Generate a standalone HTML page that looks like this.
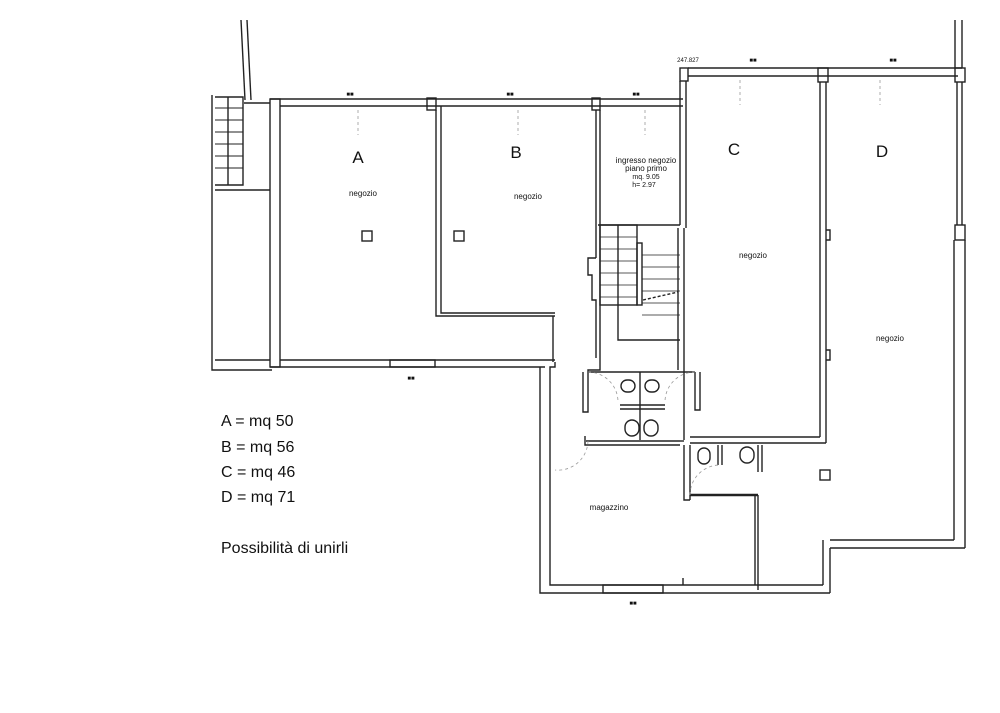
<!DOCTYPE html>
<html><head><meta charset="utf-8"><style>
html,body{margin:0;padding:0;background:#fff;}
svg{display:block}
text{font-family:"Liberation Sans",Arial,sans-serif;fill:#111}
</style></head><body>
<svg width="1000" height="713" viewBox="0 0 1000 713" xmlns="http://www.w3.org/2000/svg">
<g fill="none" stroke="#222" stroke-width="1.4">
<!-- left stair strip -->
<line x1="241" y1="20" x2="245" y2="100"/><line x1="247" y1="20" x2="251" y2="100"/>
<polyline points="212,95 212,370 272,370"/>
<polyline points="215,97 243,97 243,185 215,185"/>
<line x1="228" y1="97" x2="228" y2="185"/>
<g stroke-width="1">
<line x1="215" y1="108" x2="243" y2="108"/><line x1="215" y1="120" x2="243" y2="120"/><line x1="215" y1="132" x2="243" y2="132"/><line x1="215" y1="144" x2="243" y2="144"/><line x1="215" y1="156" x2="243" y2="156"/><line x1="215" y1="168" x2="243" y2="168"/>
</g>
<line x1="244" y1="103" x2="270" y2="103"/>
<line x1="215" y1="190" x2="270" y2="190"/>
<line x1="215" y1="360" x2="270" y2="360"/>
<!-- top wall A/B/ingresso -->
<line x1="270" y1="99" x2="683" y2="99"/><line x1="280" y1="106" x2="683" y2="106"/>
<rect x="270" y="99" width="10" height="268"/>
<line x1="280" y1="360" x2="555" y2="360"/>
<line x1="270" y1="367" x2="545" y2="367"/>
<rect x="427" y="98" width="9" height="12"/>
<rect x="592" y="98" width="8" height="12"/>
<!-- B -->
<polyline points="436,110 436,316 555,316"/>
<polyline points="441,106 441,313 555,313"/>
<line x1="553" y1="316" x2="553" y2="362"/>
<!-- ingresso -->
<line x1="596" y1="110" x2="596" y2="258"/><line x1="600" y1="110" x2="600" y2="358"/>
<polyline points="596,258 588,258 588,275 592,275 592,300 596,300 596,358"/>
<line x1="598" y1="225" x2="680" y2="225"/>
<rect x="600" y="225" width="37" height="80"/>
<rect x="637" y="243" width="5" height="62"/>
<polyline points="618,225 618,340 680,340"/>
<g stroke-width="0.8">
<line x1="600" y1="237" x2="637" y2="237"/><line x1="600" y1="249" x2="637" y2="249"/><line x1="600" y1="261" x2="637" y2="261"/><line x1="600" y1="273" x2="637" y2="273"/><line x1="600" y1="285" x2="637" y2="285"/><line x1="600" y1="297" x2="637" y2="297"/>
<line x1="642" y1="255" x2="680" y2="255"/><line x1="642" y1="267" x2="680" y2="267"/><line x1="642" y1="279" x2="680" y2="279"/><line x1="642" y1="291" x2="680" y2="291"/><line x1="642" y1="303" x2="680" y2="303"/><line x1="642" y1="315" x2="680" y2="315"/>
</g>
<line x1="643" y1="300" x2="678" y2="292" stroke-dasharray="3,2"/>
<!-- C -->
<rect x="680" y="68" width="8" height="13"/>
<line x1="680" y1="81" x2="680" y2="225"/><line x1="686" y1="81" x2="686" y2="228"/>
<line x1="678" y1="228" x2="678" y2="370"/><line x1="684" y1="228" x2="684" y2="440"/>
<line x1="688" y1="68" x2="962" y2="68"/><line x1="688" y1="76" x2="958" y2="76"/>
<rect x="818" y="68" width="10" height="14"/>
<line x1="820" y1="82" x2="820" y2="437"/><line x1="826" y1="82" x2="826" y2="443"/>
<polyline points="826,230 830,230 830,240 826,240"/><polyline points="826,350 830,350 830,360 826,360"/>
<line x1="690" y1="437" x2="820" y2="437"/>
<line x1="690" y1="443" x2="826" y2="443"/>
<!-- D right -->
<line x1="955" y1="20" x2="955" y2="68"/><line x1="962" y1="20" x2="962" y2="68"/>
<rect x="955" y="68" width="10" height="14"/>
<line x1="957" y1="82" x2="957" y2="225"/><line x1="962" y1="82" x2="962" y2="225"/>
<rect x="955" y="225" width="10" height="15"/>
<line x1="954" y1="240" x2="954" y2="540"/><line x1="965" y1="240" x2="965" y2="548"/>
<line x1="830" y1="540" x2="954" y2="540"/><line x1="830" y1="548" x2="965" y2="548"/>
<line x1="823" y1="540" x2="823" y2="585"/><line x1="830" y1="548" x2="830" y2="593"/>
<!-- lower block -->
<polyline points="555,362 555,367 550,367 550,585 823,585"/>
<polyline points="540,367 540,593 830,593"/>
<rect x="603" y="585" width="60" height="8"/>
<line x1="683" y1="578" x2="683" y2="585"/>
<line x1="755" y1="495" x2="755" y2="585"/><line x1="758" y1="495" x2="758" y2="590"/>
<!-- WCs -->
<polyline points="583,372 583,412 588,412 588,370 600,370 600,358"/>
<line x1="588" y1="372" x2="695" y2="372"/>
<line x1="640" y1="372" x2="640" y2="440"/>
<line x1="620" y1="405" x2="665" y2="405"/><line x1="620" y1="409" x2="665" y2="409"/>
<polyline points="695,372 695,410 700,410 700,372"/>
<polyline points="585,436 585,445 680,445"/>
<line x1="586" y1="441" x2="680" y2="441"/>
<line x1="680" y1="441" x2="684" y2="441"/>
<polyline points="684,445 684,500 690,500"/>
<line x1="690" y1="445" x2="690" y2="500"/>
<line x1="718" y1="445" x2="718" y2="465"/><line x1="722" y1="445" x2="722" y2="465"/>
<line x1="758" y1="445" x2="758" y2="472"/><line x1="762" y1="445" x2="762" y2="472"/>
<line x1="690" y1="495" x2="758" y2="495" stroke-width="2.5"/>
<rect x="820" y="470" width="10" height="10"/>
<!-- fixtures -->
<rect x="621" y="380" width="14" height="12" rx="6"/><rect x="645" y="380" width="14" height="12" rx="6"/>
<rect x="625" y="420" width="14" height="16" rx="7"/><rect x="644" y="420" width="14" height="16" rx="7"/>
<rect x="698" y="448" width="12" height="16" rx="6"/><rect x="740" y="447" width="14" height="16" rx="7"/>
<!-- columns -->
<rect x="362" y="231" width="10" height="10"/><rect x="454" y="231" width="10" height="10"/>
<!-- windows bottom A -->
<rect x="390" y="360" width="45" height="7"/>
</g>
<g fill="none" stroke="#999" stroke-width="0.8" stroke-dasharray="3,3">
<path d="M588,372 A30,30 0 0 1 618,402"/><path d="M695,372 A30,30 0 0 0 665,402"/>
<path d="M588,441 A30,30 0 0 1 555,470"/><path d="M690,495 A30,30 0 0 1 720,465"/>
<path d="M358,110 L358,135"/><path d="M518,110 L518,135"/><path d="M645,110 L645,135"/><path d="M740,80 L740,105"/><path d="M880,80 L880,105"/>
</g>
<g font-size="6" text-anchor="middle" fill="#222">
<text x="350" y="96">■■</text><text x="510" y="96">■■</text><text x="636" y="96">■■</text><text x="753" y="62">■■</text><text x="893" y="62">■■</text>
<text x="411" y="380">■■</text><text x="633" y="605">■■</text>
<text x="688" y="62" font-size="6">247.827</text>
</g>
<g text-anchor="middle">
<text x="358" y="163" font-size="17">A</text>
<text x="516" y="158" font-size="17">B</text>
<text x="734" y="155" font-size="17">C</text>
<text x="882" y="157" font-size="17">D</text>
<text x="363" y="196" font-size="8">negozio</text>
<text x="528" y="199" font-size="8">negozio</text>
<text x="753" y="258" font-size="8">negozio</text>
<text x="890" y="341" font-size="8">negozio</text>
<text x="646" y="163" font-size="8">ingresso negozio</text>
<text x="646" y="171" font-size="8">piano primo</text>
<text x="646" y="179" font-size="7">mq. 9.05</text>
<text x="644" y="187" font-size="7">h= 2.97</text>
<text x="609" y="510" font-size="8">magazzino</text>
</g>
<g font-size="16">
<text x="221" y="426">A = mq 50</text>
<text x="221" y="452">B = mq 56</text>
<text x="221" y="477">C = mq 46</text>
<text x="221" y="502">D = mq 71</text>
<text x="221" y="553">Possibilità di unirli</text>
</g>
</svg>
</body></html>
